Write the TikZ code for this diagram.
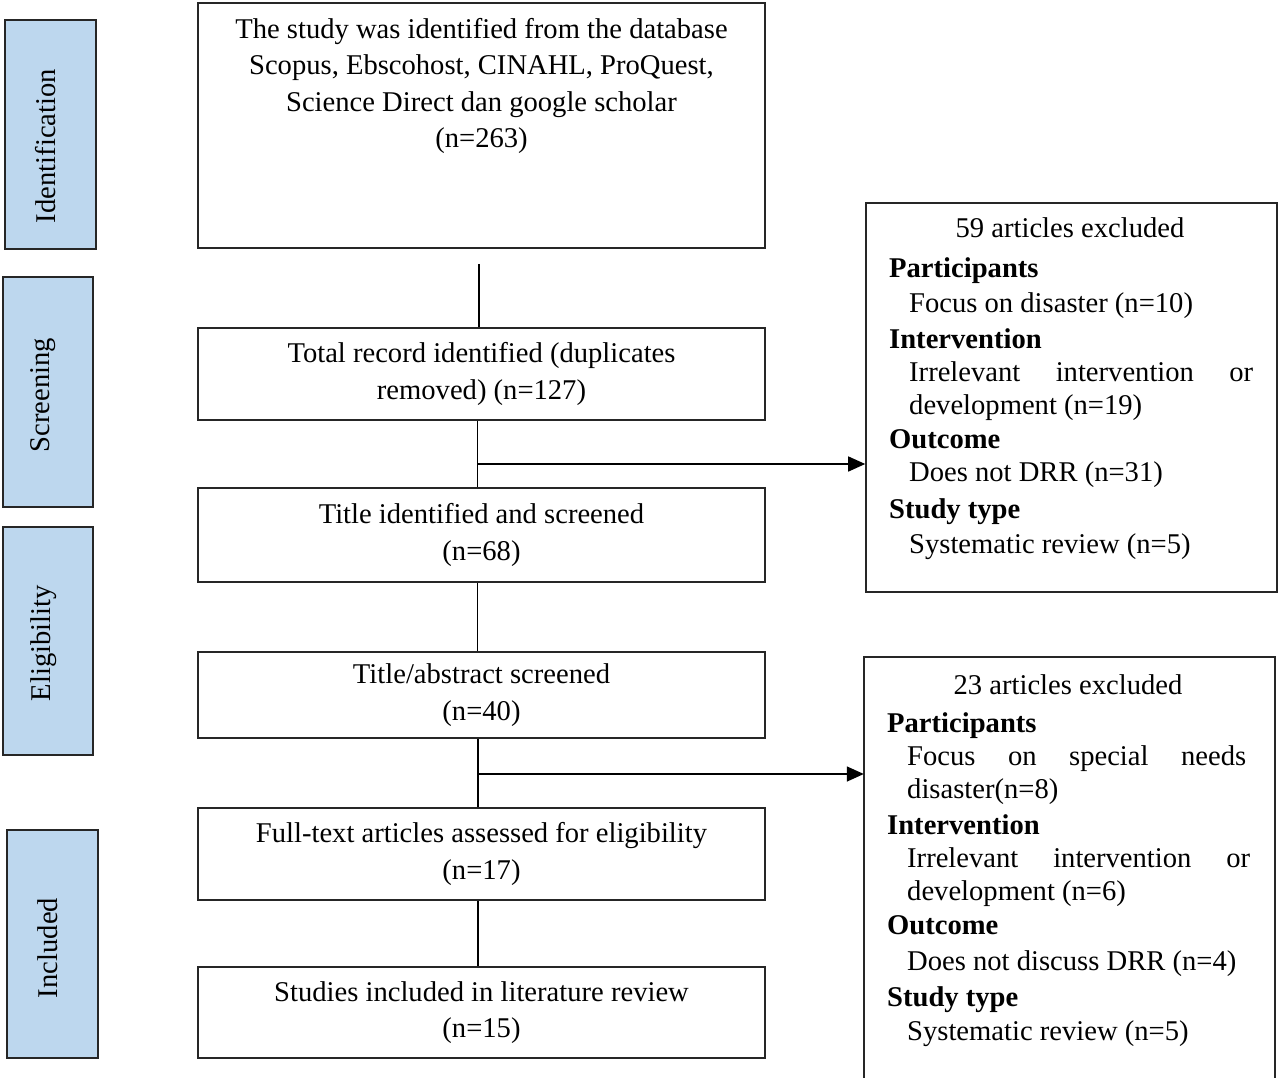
\documentclass[tikz,border=0pt]{standalone}
\usepackage{fontspec}
\setmainfont{Liberation Serif}
\usetikzlibrary{arrows.meta}
\definecolor{sideblue}{HTML}{BDD7EE}
\definecolor{edgegray}{HTML}{262626}
\begin{document}
\begin{tikzpicture}[x=1pt,y=-1pt,
  font=\fontsize{28.6}{36.4}\selectfont,
  box/.style={draw=edgegray,line width=1.6pt,minimum width=567pt,inner sep=0pt,align=center},
  sidebox/.style={draw=edgegray,line width=1.8pt,fill=sideblue,inner sep=0pt},
  sidetext/.style={rotate=90,inner sep=0pt},
  ln/.style={inner sep=0pt,anchor=west,text height=20pt,text depth=6pt},
  hd/.style={ln,font=\fontsize{28.6}{36.4}\selectfont\bfseries},
  conn/.style={line width=1.5pt,draw=black},
  arr/.style={conn,-{Triangle[length=17pt,width=15pt]}}]
\useasboundingbox (0,0) rectangle (1280,1078);

% side labels
\node[sidebox,minimum width=91pt,minimum height=229pt] (sid) at (50.5,134.5) {};
\node[sidetext] (sidt) at (45.5,146) {Identification};
\node[sidebox,minimum width=90pt,minimum height=230pt] (ssc) at (48,392) {};
\node[sidetext] (ssct) at (43,395) {Screening};
\node[sidebox,minimum width=90pt,minimum height=228pt] (sel) at (48,641) {};
\node[sidetext] (selt) at (43.5,643) {Eligibility};
\node[sidebox,minimum width=91pt,minimum height=228pt] (sin) at (52.5,944) {};
\node[sidetext] (sint) at (48,948) {Included};

% main boxes
\node[box,minimum height=245pt] (b1) at (481.5,125.5) {};
\node[align=center,inner sep=0pt] (t1) at (481.5,86) {The study was identified from the database\\Scopus, Ebscohost, CINAHL, ProQuest,\\Science Direct dan google scholar\\(n=263)};
\node[box,minimum height=92pt] (b2) at (481.5,374) {Total record identified (duplicates\\removed) (n=127)};
\node[box,minimum height=94pt] (b3) at (481.5,535) {Title identified and screened\\(n=68)};
\node[box,minimum height=86pt] (b4) at (481.5,695) {Title/abstract screened\\(n=40)};
\node[box,minimum height=92pt] (b5) at (481.5,854) {Full-text articles assessed for eligibility\\(n=17)};
\node[box,minimum height=91pt] (b6) at (481.5,1012.5) {Studies included in literature review\\(n=15)};

% exclusion boxes
\node[draw=edgegray,line width=1.6pt,minimum width=411pt,minimum height=389pt,inner sep=0pt] (ex1) at (1071.5,397.5) {};
\node[minimum width=411pt,minimum height=423pt,inner sep=0pt] (ex2) at (1069.5,868.5) {};
\draw[draw=edgegray,line width=1.6pt] (ex2.south west) -- (ex2.north west) -- (ex2.north east) -- (ex2.south east);

% text of box ex1
\node[ln,anchor=center] (e1t) at (1070,231) {59 articles excluded};
\node[hd] (e1a) at (889,270) {Participants};
\node[ln] (e1b) at (909,305) {Focus on disaster (n=10)};
\node[hd] (e1c) at (889,341) {Intervention};
\node[ln] (e1d) at (909,374) {\makebox[344pt][s]{Irrelevant intervention or}};
\node[ln] (e1e) at (909,407) {development (n=19)};
\node[hd] (e1f) at (889,441) {Outcome};
\node[ln] (e1g) at (909,474) {Does not DRR (n=31)};
\node[hd] (e1h) at (889,511) {Study type};
\node[ln] (e1i) at (909,546) {Systematic review (n=5)};

% text of box ex2
\node[ln,anchor=center] (e2t) at (1068,687) {23 articles excluded};
\node[hd] (e2a) at (887,725) {Participants};
\node[ln] (e2b) at (907,758) {\makebox[339pt][s]{Focus on special needs}};
\node[ln] (e2c) at (907,791) {disaster(n=8)};
\node[hd] (e2d) at (887,827) {Intervention};
\node[ln] (e2e) at (907,860) {\makebox[343pt][s]{Irrelevant intervention or}};
\node[ln] (e2f) at (907,893) {development (n=6)};
\node[hd] (e2g) at (887,927) {Outcome};
\node[ln] (e2h) at (907,963) {Does not discuss DRR (n=4)};
\node[hd] (e2i) at (887,999) {Study type};
\node[ln] (e2j) at (907,1033) {Systematic review (n=5)};

% connectors
\coordinate (c1) at (479,264);
\draw[conn] (c1) -- (c1 |- b2.north);
\draw[conn] ([xshift=-4pt]b2.south) -- ([xshift=-4pt]b3.north);
\coordinate (j1) at (477,464);
\draw[arr] (j1) -- (j1 -| ex1.west);
\draw[conn] ([xshift=-4pt]b3.south) -- ([xshift=-4pt]b4.north);
\draw[conn] ([xshift=-3.5pt]b4.south) -- ([xshift=-3.5pt]b5.north);
\coordinate (j2) at (478,774);
\draw[arr] (j2) -- (j2 -| ex2.west);
\draw[conn] ([xshift=-3.5pt]b5.south) -- ([xshift=-3.5pt]b6.north);
\end{tikzpicture}
\end{document}
